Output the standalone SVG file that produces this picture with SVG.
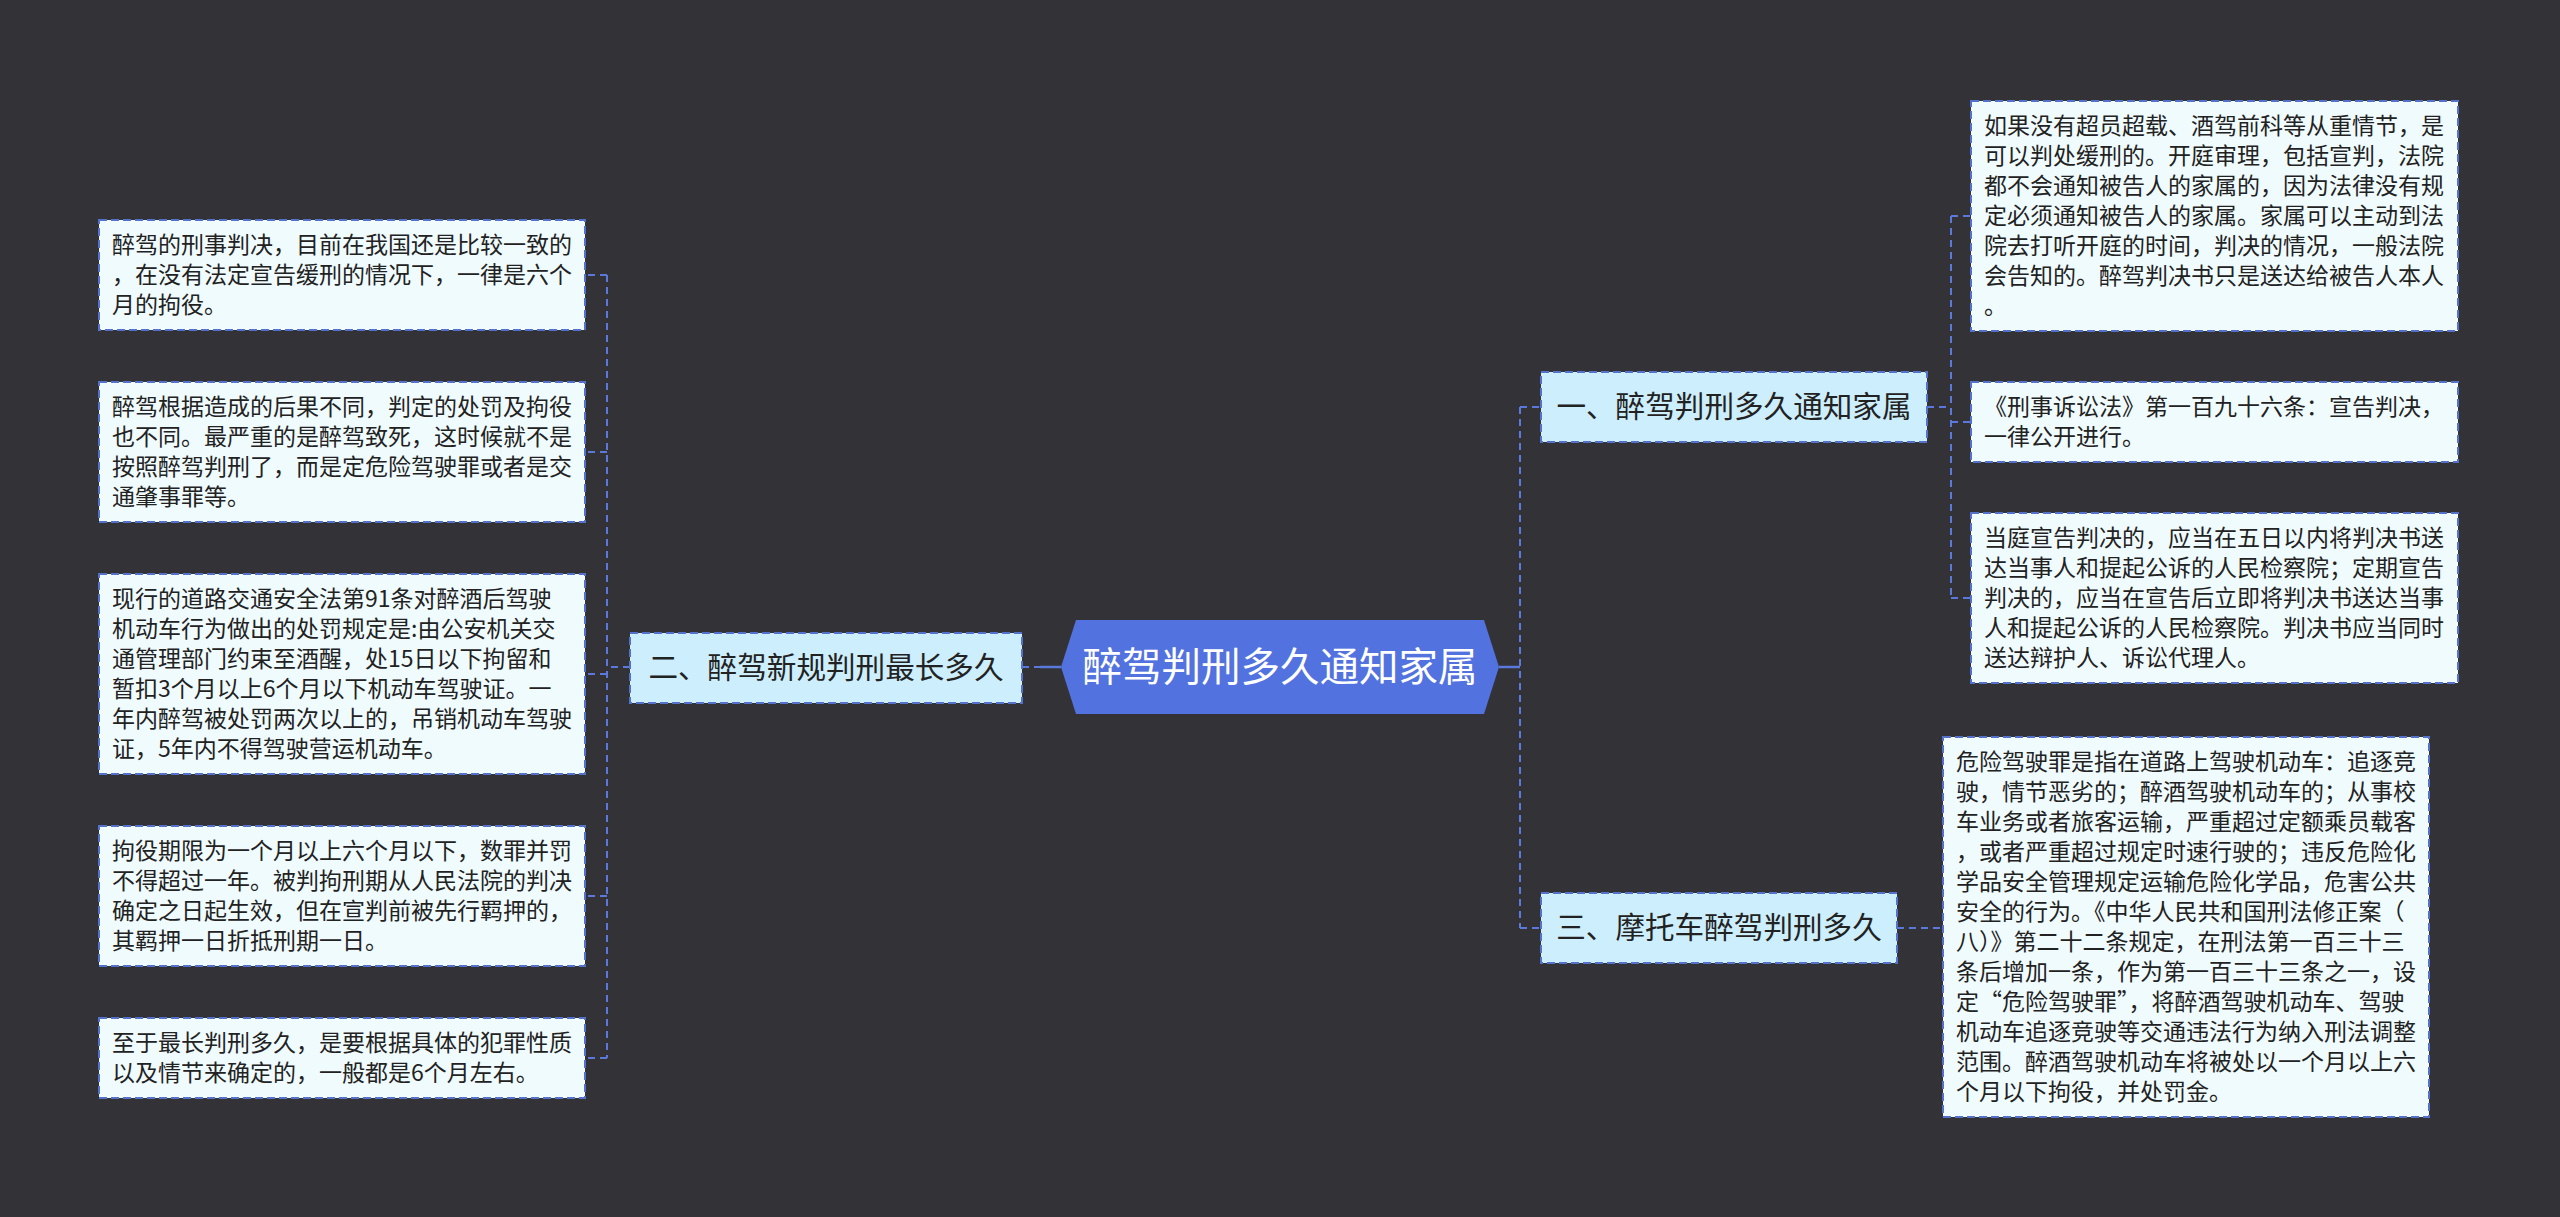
<svg xmlns="http://www.w3.org/2000/svg" width="2560" height="1217" viewBox="0 0 2560 1217">
<style>
.leaf{fill:#f0fbfe;stroke:#5471cc;stroke-width:2;stroke-dasharray:8 4}
.branch{fill:#cdeefc;stroke:#5471cc;stroke-width:2;stroke-dasharray:8 4}
.lt{font-family:"Noto Sans CJK SC","Noto Sans",sans-serif;font-size:23px;fill:#222222}
.bt{font-family:"Noto Sans CJK SC","Noto Sans",sans-serif;font-size:29.6px;fill:#222222;text-anchor:middle}
.ct{font-family:"Noto Sans CJK SC","Noto Sans",sans-serif;font-size:39.5px;fill:#ffffff;text-anchor:middle}
.ln{fill:none;stroke:#5b78dc;stroke-width:2;stroke-dasharray:7 5}
.sl{fill:none;stroke:#5b78dc;stroke-width:2.5}
</style>
<rect width="2560" height="1217" fill="#333236"/>
<g id="connectors">
<path class="sl" d="M1040 667 H1061"/>
<path class="ln" d="M1022 667 H1040"/>
<path class="sl" d="M1499 667 H1520"/>
<path class="ln" d="M1520 407 V928 M1520 407 H1541 M1520 928 H1541"/>
<path class="ln" d="M630 667 H607 M607 275 V1058 M607 275 H586 M607 452 H586 M607 674 H586 M607 896 H586 M607 1058 H586"/>
<path class="ln" d="M1927 407 H1951 M1951 216 V598 M1951 216 H1971 M1951 422 H1971 M1951 598 H1971"/>
<path class="ln" d="M1897 928 H1943"/>
</g>
<g id="center">
<polygon points="1061,667 1076,620 1484,620 1499,667 1484,714 1076,714" fill="#5272e0"/>
<text class="ct" x="1280" y="681">醉驾判刑多久通知家属</text>
</g>
<g id="branch1">
<rect class="branch" x="1541" y="372" width="386" height="70"/>
<text class="bt" x="1734" y="417">一、醉驾判刑多久通知家属</text>
</g>
<g id="branch2">
<rect class="branch" x="630" y="633" width="392" height="70"/>
<text class="bt" x="826" y="678">二、醉驾新规判刑最长多久</text>
</g>
<g id="branch3">
<rect class="branch" x="1541" y="893" width="356" height="70"/>
<text class="bt" x="1719" y="938">三、摩托车醉驾判刑多久</text>
</g>
<g id="leaf-l1">
<rect class="leaf" x="99" y="220" width="486" height="110"/>
<text class="lt" x="112" y="253"><tspan x="112">醉驾的刑事判决，目前在我国还是比较一致的</tspan><tspan x="112" dy="30">，在没有法定宣告缓刑的情况下，一律是六个</tspan><tspan x="112" dy="30">月的拘役。</tspan></text>
</g>
<g id="leaf-l2">
<rect class="leaf" x="99" y="382" width="486" height="140"/>
<text class="lt" x="112" y="415"><tspan x="112">醉驾根据造成的后果不同，判定的处罚及拘役</tspan><tspan x="112" dy="30">也不同。最严重的是醉驾致死，这时候就不是</tspan><tspan x="112" dy="30">按照醉驾判刑了，而是定危险驾驶罪或者是交</tspan><tspan x="112" dy="30">通肇事罪等。</tspan></text>
</g>
<g id="leaf-l3">
<rect class="leaf" x="99" y="574" width="486" height="200"/>
<text class="lt" x="112" y="607"><tspan x="112">现行的道路交通安全法第91条对醉酒后驾驶</tspan><tspan x="112" dy="30">机动车行为做出的处罚规定是:由公安机关交</tspan><tspan x="112" dy="30">通管理部门约束至酒醒，处15日以下拘留和</tspan><tspan x="112" dy="30">暂扣3个月以上6个月以下机动车驾驶证。一</tspan><tspan x="112" dy="30">年内醉驾被处罚两次以上的，吊销机动车驾驶</tspan><tspan x="112" dy="30">证，5年内不得驾驶营运机动车。</tspan></text>
</g>
<g id="leaf-l4">
<rect class="leaf" x="99" y="826" width="486" height="140"/>
<text class="lt" x="112" y="859"><tspan x="112">拘役期限为一个月以上六个月以下，数罪并罚</tspan><tspan x="112" dy="30">不得超过一年。被判拘刑期从人民法院的判决</tspan><tspan x="112" dy="30">确定之日起生效，但在宣判前被先行羁押的，</tspan><tspan x="112" dy="30">其羁押一日折抵刑期一日。</tspan></text>
</g>
<g id="leaf-l5">
<rect class="leaf" x="99" y="1018" width="486" height="80"/>
<text class="lt" x="112" y="1051"><tspan x="112">至于最长判刑多久，是要根据具体的犯罪性质</tspan><tspan x="112" dy="30">以及情节来确定的，一般都是6个月左右。</tspan></text>
</g>
<g id="leaf-r1">
<rect class="leaf" x="1971" y="101" width="487" height="230"/>
<text class="lt" x="1984" y="134"><tspan x="1984">如果没有超员超载、酒驾前科等从重情节，是</tspan><tspan x="1984" dy="30">可以判处缓刑的。开庭审理，包括宣判，法院</tspan><tspan x="1984" dy="30">都不会通知被告人的家属的，因为法律没有规</tspan><tspan x="1984" dy="30">定必须通知被告人的家属。家属可以主动到法</tspan><tspan x="1984" dy="30">院去打听开庭的时间，判决的情况，一般法院</tspan><tspan x="1984" dy="30">会告知的。醉驾判决书只是送达给被告人本人</tspan><tspan x="1984" dy="30">。</tspan></text>
</g>
<g id="leaf-r2">
<rect class="leaf" x="1971" y="382" width="487" height="80"/>
<text class="lt" x="1984" y="415"><tspan x="1984">《刑事诉讼法》第一百九十六条：宣告判决，</tspan><tspan x="1984" dy="30">一律公开进行。</tspan></text>
</g>
<g id="leaf-r3">
<rect class="leaf" x="1971" y="513" width="487" height="170"/>
<text class="lt" x="1984" y="546"><tspan x="1984">当庭宣告判决的，应当在五日以内将判决书送</tspan><tspan x="1984" dy="30">达当事人和提起公诉的人民检察院；定期宣告</tspan><tspan x="1984" dy="30">判决的，应当在宣告后立即将判决书送达当事</tspan><tspan x="1984" dy="30">人和提起公诉的人民检察院。判决书应当同时</tspan><tspan x="1984" dy="30">送达辩护人、诉讼代理人。</tspan></text>
</g>
<g id="leaf-r4">
<rect class="leaf" x="1943" y="737" width="486" height="380"/>
<text class="lt" x="1956" y="770"><tspan x="1956">危险驾驶罪是指在道路上驾驶机动车：追逐竞</tspan><tspan x="1956" dy="30">驶，情节恶劣的；醉酒驾驶机动车的；从事校</tspan><tspan x="1956" dy="30">车业务或者旅客运输，严重超过定额乘员载客</tspan><tspan x="1956" dy="30">，或者严重超过规定时速行驶的；违反危险化</tspan><tspan x="1956" dy="30">学品安全管理规定运输危险化学品，危害公共</tspan><tspan x="1956" dy="30">安全的行为。《中华人民共和国刑法修正案（</tspan><tspan x="1956" dy="30">八）》第二十二条规定，在刑法第一百三十三</tspan><tspan x="1956" dy="30">条后增加一条，作为第一百三十三条之一，设</tspan><tspan x="1956" dy="30">定“危险驾驶罪”，将醉酒驾驶机动车、驾驶</tspan><tspan x="1956" dy="30">机动车追逐竞驶等交通违法行为纳入刑法调整</tspan><tspan x="1956" dy="30">范围。醉酒驾驶机动车将被处以一个月以上六</tspan><tspan x="1956" dy="30">个月以下拘役，并处罚金。</tspan></text>
</g>
</svg>
